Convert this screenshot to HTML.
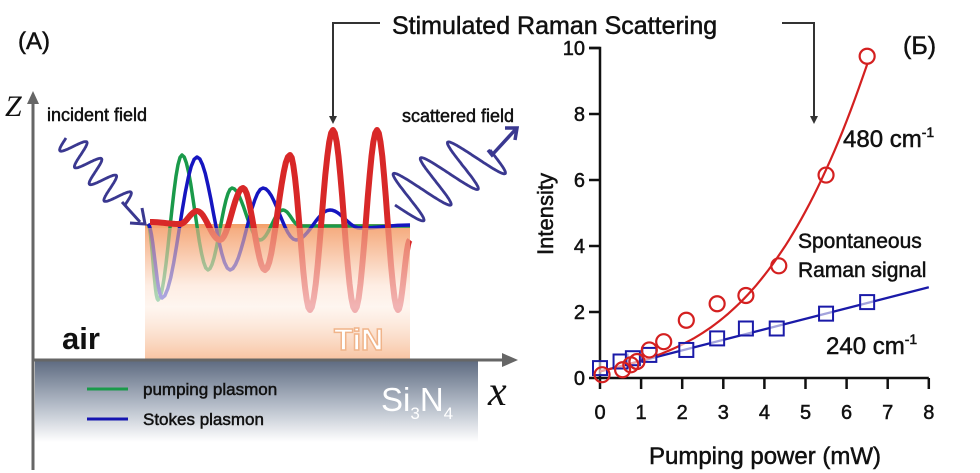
<!DOCTYPE html>
<html><head><meta charset="utf-8"><style>
html,body{margin:0;padding:0;background:#fff;}
svg{display:block;font-family:"Liberation Sans",sans-serif;}
text{fill:#111;}
.b{stroke:#111;stroke-width:0.5;}
</style></head><body>
<svg id="fig" width="980" height="473" viewBox="0 0 980 473">
<defs>
 <linearGradient id="sin" x1="0" y1="0" x2="0" y2="1">
  <stop offset="0" stop-color="#5d6a80"/><stop offset="0.55" stop-color="#b4bcc8"/><stop offset="1" stop-color="#fff"/>
 </linearGradient>
 <linearGradient id="tin" x1="0" y1="0" x2="0" y2="1">
  <stop offset="0" stop-color="#f3a06a"/><stop offset="0.45" stop-color="#fff4ec"/><stop offset="0.6" stop-color="#fde6d6"/><stop offset="1" stop-color="#f4a36e"/>
 </linearGradient>
 <linearGradient id="fade" x1="0" y1="0" x2="0" y2="1">
  <stop offset="0" stop-color="#f6b088" stop-opacity="0.6"/><stop offset="0.6" stop-color="#fff" stop-opacity="0.65"/><stop offset="1" stop-color="#fff" stop-opacity="0.35"/>
 </linearGradient>
 <marker id="ah" markerWidth="8" markerHeight="8" refX="6" refY="4" orient="auto" markerUnits="userSpaceOnUse"><path d="M0,0 L8,4 L0,8 Z" fill="#333"/></marker>
</defs>

<text x="18" y="49" font-size="24" class="b">(A)</text>
<rect x="35" y="360" width="443" height="82" fill="url(#sin)"/>
<rect x="145" y="224" width="265" height="136" fill="url(#tin)"/>
<g id="waves"></g>
<rect x="145" y="228" width="265" height="132" fill="url(#fade)"/>
<line x1="33" y1="470" x2="33" y2="100" stroke="#666" stroke-width="3"/>
<path d="M27,104 L33,91 L39,104 Z" fill="#666"/>
<line x1="33" y1="360" x2="505" y2="360" stroke="#666" stroke-width="3"/>
<path d="M502,353 L518,360 L502,367 Z" fill="#666"/>
<text x="5" y="116" font-size="30" font-style="italic" font-family="Liberation Serif,serif">Z</text>
<text x="488" y="405" font-size="42" font-style="italic" font-family="Liberation Serif,serif">x</text>
<text x="47" y="121" font-size="18" class="b">incident field</text>
<text x="402" y="122" font-size="18" class="b">scattered field</text>
<text x="62" y="349" font-size="31" font-weight="bold">air</text>
<text x="334" y="350" font-size="31" font-weight="bold" style="fill:#fff" stroke="#f0b48a" stroke-width="1.5">TiN</text>
<text x="381" y="411" font-size="33" style="fill:#fff">Si<tspan font-size="17" dy="8">3</tspan><tspan dy="-8">N</tspan><tspan font-size="17" dy="8">4</tspan></text>
<line x1="87" y1="389" x2="128" y2="389" stroke="#1a9a4a" stroke-width="3"/>
<text x="143" y="395" font-size="17" class="b">pumping plasmon</text>
<line x1="87" y1="419" x2="128" y2="419" stroke="#1515b0" stroke-width="3"/>
<text x="143" y="425" font-size="17" class="b">Stokes plasmon</text>
<g id="fields"></g>

<text x="392" y="34" font-size="25" class="b">Stimulated Raman Scattering</text>
<path d="M380,23 L333,23 L333,122" fill="none" stroke="#333" stroke-width="2" marker-end="url(#ah)"/>
<path d="M782,23 L814,23 L814,122" fill="none" stroke="#333" stroke-width="2" marker-end="url(#ah)"/>

<text x="903" y="54" font-size="25" class="b">(Б)</text>
<g id="chart"></g>
<text x="843" y="147" font-size="24" class="b">480 cm<tspan font-size="14" dy="-10">-1</tspan></text>
<text x="798" y="248" font-size="21" class="b">Spontaneous</text>
<text x="798" y="277" font-size="21" class="b">Raman signal</text>
<text x="826" y="354" font-size="24" class="b">240 cm<tspan font-size="14" dy="-10">-1</tspan></text>
<text x="0" y="0" font-size="22" text-anchor="middle" class="b" transform="translate(553,214) rotate(-90)">Intensity</text>
<text x="765" y="464" font-size="24" text-anchor="middle" class="b">Pumping power (mW)</text>
</svg>
<script>
const xTicks=[0,1,2,3,4,5,6,7,8];
const yTicks=[0,2,4,6,8,10];
const redX=[0.05,0.55,0.75,0.9,1.2,1.55,2.1,2.85,3.55,4.35,5.5,6.5];
const redY=[0.1,0.25,0.4,0.5,0.85,1.1,1.75,2.25,2.5,3.4,6.15,9.75];
const blueX=[0,0.5,0.8,1.2,2.1,2.85,3.55,4.3,5.5,6.5];
const blueY=[0.3,0.5,0.6,0.7,0.85,1.2,1.5,1.5,1.95,2.3];
const blueFit=[0.2,2.75];
const redFit=[0.2,0.3,0.0268];
const NS='http://www.w3.org/2000/svg';
const sx=v=>600+v*41.1, sy=v=>378-v*33;
function mk(t,a,p){const e=document.createElementNS(NS,t);for(const k in a)e.setAttribute(k,a[k]);(p||document.getElementById('chart')).appendChild(e);return e;}
const ax=mk('path',{d:`M589,${sy(10)} L600,${sy(10)} L600,378 L${sx(8)},378`,fill:'none',stroke:'#111','stroke-width':2.5});


yTicks.forEach(v=>{const l=mk('line',{x1:589,x2:600,y1:sy(v),y2:sy(v),stroke:'#111','stroke-width':2.5});


const t=mk('text',{x:585,y:sy(v)+7,'font-size':20,'text-anchor':'end',class:'b'});t.textContent=v;

});
xTicks.forEach(v=>{const l=mk('line',{x1:sx(v),x2:sx(v),y1:378,y2:389,stroke:'#111','stroke-width':2.5});


const t=mk('text',{x:sx(v),y:419,'font-size':20,'text-anchor':'middle',class:'b'});t.textContent=v;

});
const bl=mk('line',{x1:sx(0),y1:sy(blueFit[0]),x2:sx(8),y2:sy(blueFit[1]),stroke:'#1a1aa8','stroke-width':2.2});


let d='';for(let i=0;i<=65;i++){const x=i/10;const y=redFit[0]+redFit[1]*x+redFit[2]*x*x*x;d+=(i?'L':'M')+sx(x).toFixed(1)+','+sy(y).toFixed(1);}
const rl=mk('path',{d,fill:'none',stroke:'#d42020','stroke-width':2.2});


blueX.forEach((x,i)=>{const r=mk('rect',{x:sx(x)-7,y:sy(blueY[i])-7,width:14,height:14,fill:'#fff','fill-opacity':0.6,stroke:'#1a1aa8','stroke-width':2});

});
redX.forEach((x,i)=>{const c=mk('circle',{cx:sx(x),cy:sy(redY[i]),r:7.5,fill:'none',stroke:'#d42020','stroke-width':2.2});

});

const W=document.getElementById('waves');
function wave(ext,color,w,name){let d='M'+ext[0][0]+','+ext[0][1];
for(let i=1;i<ext.length;i++){const [x0,y0]=ext[i-1],[x1,y1]=ext[i];for(let k=1;k<=12;k++){const t=k/12;const x=x0+(x1-x0)*t;const y=y0+(y1-y0)*(1-Math.cos(Math.PI*t))/2;d+=' L'+x.toFixed(1)+','+y.toFixed(1);}}
const p=mk('path',{d,fill:'none',stroke:color,'stroke-width':w,'stroke-linejoin':'round'},W);

}
wave([[148,224],[158,300],[182,155],[208,270],[232,188],[260,240],[283,210],[300,226],[410,226]],'#1a9a4a',3.5,'pumping-plasmon-wave');
wave([[148,224],[162,298],[197,157],[230,270],[263,188],[296,240],[330,210],[360,228],[410,225]],'#1515c0',3.5,'stokes-plasmon-wave');
wave([[150,222],[180,224],[197,211],[220,240],[243,188],[265,270],[290,155],[310,310],[333,130],[355,310],[377,130],[398,310],[410,240]],'#d82828',6,'stimulated-wave');
const F=document.getElementById('fields');
function zig(x0,y0,x1,y1,n,amp,name,stretch){const dx=x1-x0,dy=y1-y0,L=Math.hypot(dx,dy),ux=dx/L,uy=dy/L,nx=-uy,ny=ux;let d='';
for(let i=0;i<=300;i++){const t=i/300;const ph=2*Math.PI*n*t;const s=t*L+(stretch?stretch*Math.sin(ph):0);const a=amp*Math.sin(ph);const x=x0+ux*s+nx*a,y=y0+uy*s+ny*a;d+=(i?'L':'M')+x.toFixed(1)+','+y.toFixed(1);}
const p=mk('path',{d,fill:'none',stroke:'#3a3890','stroke-width':2.8},F);

}
zig(66,138,125,205,4,13,'incident-field-wave',0);
const a1=mk('path',{d:'M122,202 L140,222 M130,223 L145,224 L142,208',fill:'none',stroke:'#3a3890','stroke-width':3},F);


zig(395,205,490,150,3.5,28,'scattered-field-wave',9);
const a2=mk('path',{d:'M488,150 L492,155 L515,130 M505,128 L517,128 L515,140',fill:'none',stroke:'#3a3890','stroke-width':3.5},F);


</script>
</body></html>
